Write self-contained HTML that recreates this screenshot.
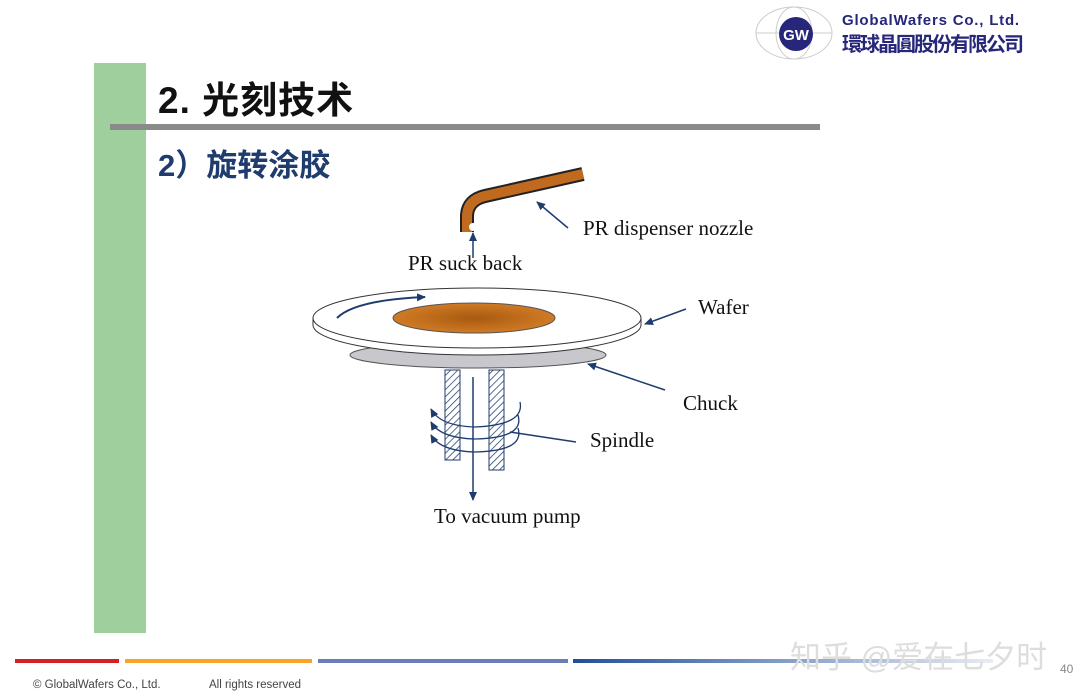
<!DOCTYPE html>
<html><head><meta charset="utf-8"><style>
body{margin:0;width:1080px;height:696px;background:#fff;position:relative;overflow:hidden;font-family:"Liberation Sans","Noto Sans CJK SC",sans-serif}
.a{position:absolute}
.t{font-family:"Liberation Serif",serif;font-size:21px;color:#111;position:absolute;white-space:nowrap}
</style></head><body>
<div class="a" style="left:94px;top:63px;width:52px;height:570px;background:#9fcf9c"></div>
<div class="a" style="left:158px;top:70px;font-size:37px;font-weight:bold;color:#111;letter-spacing:1px">2. 光刻技术</div>
<div class="a" style="left:110px;top:124px;width:710px;height:6px;background:#8a8a8a"></div>
<div class="a" style="left:158px;top:140px;font-size:31px;font-weight:bold;color:#1f3c6e">2）旋转涂胶</div>
<!-- logo -->
<svg class="a" style="left:752px;top:4px" width="90" height="58"><ellipse cx="42" cy="29" rx="38" ry="26" fill="none" stroke="#ccc"/><line x1="4" y1="29" x2="80" y2="29" stroke="#ccc"/><ellipse cx="42" cy="29" rx="18" ry="26" fill="none" stroke="#ccc"/><circle cx="44" cy="30" r="17" fill="#26267a"/><text x="44" y="36" text-anchor="middle" fill="#fff" font-size="15" font-weight="bold" font-family="Liberation Sans">GW</text></svg>
<div class="a" style="left:842px;top:12px;font-size:15px;font-weight:bold;color:#26267a;letter-spacing:0.8px">GlobalWafers Co., Ltd.</div>
<div class="a" style="left:842px;top:28px;font-size:20px;font-weight:bold;color:#26267a;letter-spacing:-2px">環球晶圓股份有限公司</div>
<svg class="a" style="left:0;top:0" width="1080" height="696">
<defs><pattern id="h" width="5" height="5" patternUnits="userSpaceOnUse" patternTransform="rotate(45)"><line x1="0" y1="0" x2="0" y2="5" stroke="#1f3c6e" stroke-width="1.5"/></pattern>
<radialGradient id="o"><stop offset="0" stop-color="#a85a10"/><stop offset="1" stop-color="#d07a25"/></radialGradient>
<marker id="ar" markerUnits="userSpaceOnUse" markerWidth="9" markerHeight="8" refX="8" refY="4" orient="auto"><path d="M0,0 L9,4 L0,8z" fill="#1f3c6e"/></marker></defs>
<!-- nozzle -->
<path d="M467,232 L467,215 Q468,200 485,196 L583,174" fill="none" stroke="#222" stroke-width="14"/>
<path d="M467,232 L467,215 Q468,200 485,196 L583,174" fill="none" stroke="#c06a20" stroke-width="10"/>
<ellipse cx="473" cy="227" rx="4" ry="4" fill="#fff"/>
<line x1="473" y1="258" x2="473" y2="233" stroke="#1f3c6e" stroke-width="1.5" marker-end="url(#ar)"/>
<line x1="568" y1="228" x2="537" y2="202" stroke="#1f3c6e" stroke-width="1.5" marker-end="url(#ar)"/>
<!-- chuck -->
<ellipse cx="478" cy="355" rx="128" ry="13" fill="#c8c8cc" stroke="#555"/>
<!-- wafer -->
<path d="M313,318 L313,325 A164,30 0 0 0 641,325 L641,318" fill="#fff" stroke="#333"/>
<ellipse cx="477" cy="318" rx="164" ry="30" fill="#fff" stroke="#333"/>
<ellipse cx="474" cy="318" rx="81" ry="15" fill="url(#o)" stroke="#555"/>
<path d="M337,318 Q355,300 425,297" fill="none" stroke="#1f3c6e" stroke-width="2" marker-end="url(#ar)"/>
<line x1="686" y1="309" x2="645" y2="324" stroke="#1f3c6e" stroke-width="1.5" marker-end="url(#ar)"/>
<line x1="665" y1="390" x2="588" y2="364" stroke="#1f3c6e" stroke-width="1.5" marker-end="url(#ar)"/>
<!-- spindle -->
<rect x="445" y="370" width="15" height="90" fill="url(#h)" stroke="#1f3c6e"/>
<rect x="489" y="370" width="15" height="100" fill="url(#h)" stroke="#1f3c6e"/>
<g fill="none" stroke="#1f3c6e" stroke-width="1.3">
<path d="M520,402 Q525,425 475,427 Q440,426 431,409" marker-end="url(#ar)"/>
<path d="M518,415 Q525,438 475,439 Q440,438 431,422" marker-end="url(#ar)"/>
<path d="M518,428 Q525,451 475,452 Q440,451 431,435" marker-end="url(#ar)"/>
</g>
<line x1="473" y1="377" x2="473" y2="500" stroke="#1f3c6e" stroke-width="1.5" marker-end="url(#ar)"/>
<line x1="576" y1="442" x2="510" y2="432" stroke="#1f3c6e" stroke-width="1.5"/>
</svg>
<div class="t" style="left:583px;top:216px">PR dispenser nozzle</div>
<div class="t" style="left:408px;top:251px">PR suck back</div>
<div class="t" style="left:698px;top:295px">Wafer</div>
<div class="t" style="left:683px;top:391px">Chuck</div>
<div class="t" style="left:590px;top:428px">Spindle</div>
<div class="t" style="left:434px;top:504px">To vacuum pump</div>
<!-- footer -->
<div class="a" style="left:15px;top:659px;width:104px;height:4px;background:#d32027"></div>
<div class="a" style="left:125px;top:659px;width:187px;height:4px;background:#f5a623"></div>
<div class="a" style="left:318px;top:659px;width:250px;height:4px;background:#6a7fb8"></div>
<div class="a" style="left:573px;top:659px;width:420px;height:4px;background:linear-gradient(90deg,#1f4f99,#e8ecf4)"></div>
<div class="a" style="left:790px;top:632px;font-size:31px;color:#ddd">知乎 @爱在七夕时</div>
<div class="a" style="left:1060px;top:662px;font-size:12px;color:#888">40</div>
<div class="a" style="left:33px;top:679px;font-size:11.5px;color:#444">© GlobalWafers Co., Ltd.</div>
<div class="a" style="left:209px;top:679px;font-size:11.5px;color:#444">All rights reserved</div>
</body></html>
